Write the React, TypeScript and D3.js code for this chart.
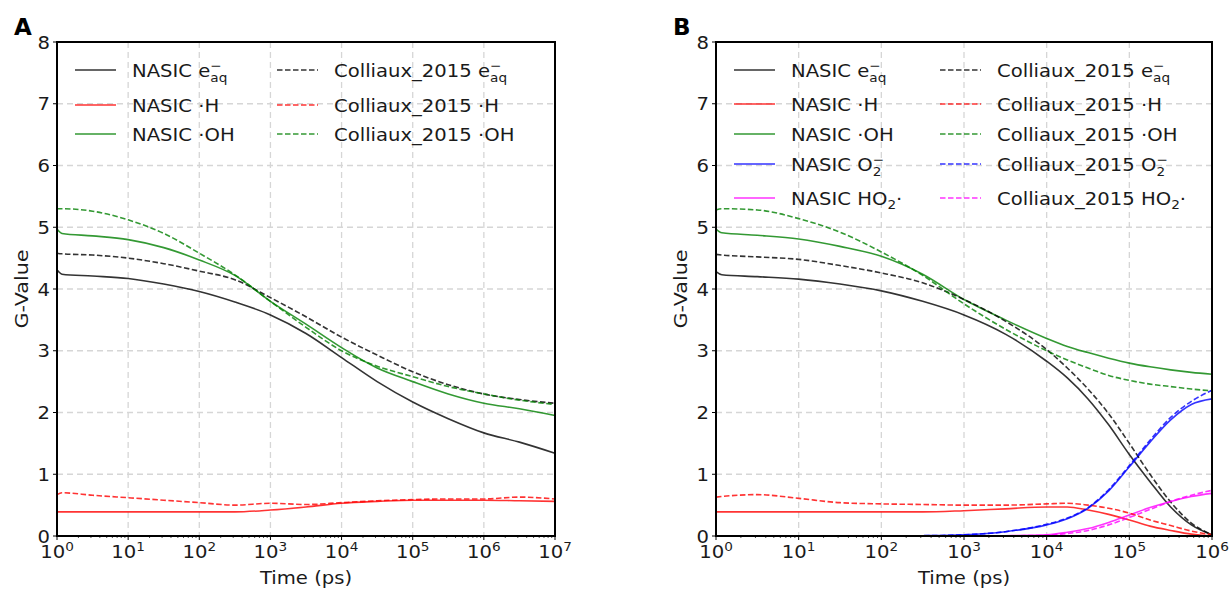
import React, { useRef, useEffect } from "react";
import * as d3 from "d3";

// time points are log10(t / ps)
const expsA = [0, 0.07, 0.5, 1, 1.5, 2, 2.5, 3, 3.5, 4, 4.5, 5, 5.5, 6, 6.5, 7];
const nasicEaqA = [4.31, 4.24, 4.21, 4.17, 4.08, 3.96, 3.79, 3.58, 3.28, 2.89, 2.5, 2.17, 1.9, 1.67, 1.52, 1.34];
const collEaqA = [4.58, 4.57, 4.55, 4.5, 4.41, 4.29, 4.15, 3.86, 3.55, 3.22, 2.93, 2.66, 2.45, 2.3, 2.21, 2.15];
const nasicOhA = [4.97, 4.9, 4.86, 4.8, 4.67, 4.47, 4.22, 3.8, 3.43, 3.05, 2.72, 2.5, 2.3, 2.15, 2.06, 1.95];
const collOhA = [5.3, 5.3, 5.26, 5.12, 4.9, 4.58, 4.23, 3.8, 3.38, 3.0, 2.75, 2.58, 2.42, 2.3, 2.2, 2.13];
const nasicHA = [0.39, 0.39, 0.39, 0.39, 0.39, 0.39, 0.39, 0.42, 0.47, 0.53, 0.56, 0.58, 0.58, 0.58, 0.57, 0.56];
const collHA = [0.67, 0.7, 0.66, 0.62, 0.58, 0.54, 0.5, 0.53, 0.51, 0.54, 0.57, 0.59, 0.6, 0.6, 0.63, 0.6];

const expsB = [0, 0.07, 0.5, 1, 1.5, 2, 2.5, 3, 3.5, 4, 4.25, 4.5, 4.75, 5, 5.25, 5.5, 5.75, 6];
const nasicEaqB = [4.28, 4.23, 4.2, 4.16, 4.08, 3.97, 3.8, 3.58, 3.27, 2.83, 2.56, 2.22, 1.8, 1.32, 0.88, 0.47, 0.18, 0.02];
const collEaqB = [4.56, 4.55, 4.52, 4.48, 4.38, 4.26, 4.1, 3.83, 3.48, 3.02, 2.72, 2.38, 1.98, 1.5, 1.0, 0.55, 0.21, 0.02];
const nasicOhB = [4.97, 4.91, 4.87, 4.81, 4.69, 4.53, 4.24, 3.83, 3.5, 3.2, 3.07, 2.97, 2.88, 2.8, 2.74, 2.69, 2.65, 2.62];
const collOhB = [5.28, 5.3, 5.28, 5.14, 4.92, 4.6, 4.22, 3.76, 3.35, 3.0, 2.85, 2.72, 2.6, 2.52, 2.46, 2.42, 2.38, 2.35];
const nasicHB = [0.39, 0.39, 0.39, 0.39, 0.39, 0.39, 0.39, 0.41, 0.44, 0.47, 0.47, 0.42, 0.35, 0.26, 0.16, 0.09, 0.03, 0.0];
const collHB = [0.63, 0.64, 0.67, 0.61, 0.54, 0.52, 0.51, 0.5, 0.5, 0.52, 0.53, 0.5, 0.45, 0.37, 0.26, 0.17, 0.08, 0.02];
const nasicO2B = [0, 0, 0, 0, 0, 0, 0.005, 0.02, 0.07, 0.18, 0.28, 0.45, 0.73, 1.12, 1.52, 1.88, 2.13, 2.22];
const collO2B = [0, 0, 0, 0, 0, 0, 0.005, 0.02, 0.07, 0.19, 0.29, 0.46, 0.75, 1.14, 1.55, 1.92, 2.18, 2.36];
const nasicHo2B = [0, 0, 0, 0, 0, 0, 0, 0, 0.005, 0.02, 0.06, 0.12, 0.22, 0.34, 0.46, 0.56, 0.64, 0.69];
const collHo2B = [0, 0, 0, 0, 0, 0, 0, 0, 0.003, 0.01, 0.04, 0.09, 0.18, 0.3, 0.43, 0.56, 0.66, 0.74];

const yTicks = [0, 1, 2, 3, 4, 5, 6, 7, 8];

type Part = { t: string; sup?: string; sub?: string };
type Series = { name: Part[]; values: number[]; color: string; dashed: boolean };

const eaq = (p: string): Part[] => [{ t: p + " e", sup: "\u2212", sub: "aq" }];
const hLab = (p: string): Part[] => [{ t: p + " \u00b7H" }];
const ohLab = (p: string): Part[] => [{ t: p + " \u00b7OH" }];
const o2Lab = (p: string): Part[] => [{ t: p + " O", sup: "\u2212", sub: "2" }];
const ho2Lab = (p: string): Part[] => [{ t: p + " HO", sub: "2" }, { t: "\u00b7" }];

const BLACK = "#000000";
const RED = "#ff0000";
const GREEN = "#008000";
const BLUE = "#0000ff";
const MAGENTA = "#ff00ff";
const FONT = "DejaVu Sans";
const FS = 18; // base font size
const SX = 1.09; // text in the reference is a bit wider than tall

const seriesA: Series[] = [
  { name: eaq("NASIC"), values: nasicEaqA, color: BLACK, dashed: false },
  { name: hLab("NASIC"), values: nasicHA, color: RED, dashed: false },
  { name: ohLab("NASIC"), values: nasicOhA, color: GREEN, dashed: false },
  { name: eaq("Colliaux_2015"), values: collEaqA, color: BLACK, dashed: true },
  { name: hLab("Colliaux_2015"), values: collHA, color: RED, dashed: true },
  { name: ohLab("Colliaux_2015"), values: collOhA, color: GREEN, dashed: true },
];

const seriesB: Series[] = [
  { name: eaq("NASIC"), values: nasicEaqB, color: BLACK, dashed: false },
  { name: hLab("NASIC"), values: nasicHB, color: RED, dashed: false },
  { name: ohLab("NASIC"), values: nasicOhB, color: GREEN, dashed: false },
  { name: o2Lab("NASIC"), values: nasicO2B, color: BLUE, dashed: false },
  { name: ho2Lab("NASIC"), values: nasicHo2B, color: MAGENTA, dashed: false },
  { name: eaq("Colliaux_2015"), values: collEaqB, color: BLACK, dashed: true },
  { name: hLab("Colliaux_2015"), values: collHB, color: RED, dashed: true },
  { name: ohLab("Colliaux_2015"), values: collOhB, color: GREEN, dashed: true },
  { name: o2Lab("Colliaux_2015"), values: collO2B, color: BLUE, dashed: true },
  { name: ho2Lab("Colliaux_2015"), values: collHo2B, color: MAGENTA, dashed: true },
];

type PanelCfg = {
  letter: string;
  left: number;
  right: number;
  top: number;
  bottom: number;
  maxExp: number;
  exps: number[];
  series: Series[];
  legendRows: number[];
  legendX: number[];
};

const panels: PanelCfg[] = [
  {
    letter: "A", left: 57, right: 555, top: 42, bottom: 536, maxExp: 7,
    exps: expsA, series: seriesA, legendRows: [70, 105, 134], legendX: [75, 277],
  },
  {
    letter: "B", left: 716, right: 1212, top: 42, bottom: 536, maxExp: 6,
    exps: expsB, series: seriesB, legendRows: [70, 104, 134, 164, 198], legendX: [734, 940],
  },
];

type G = d3.Selection<SVGGElement, unknown, null, undefined>;
type T = d3.Selection<SVGTextElement, unknown, null, undefined>;

function addText(g: G, x: number, y: number, rot = 0, sx = SX): T {
  return g.append("text")
    .attr("transform", `translate(${x},${y}) rotate(${rot}) scale(${sx},1)`)
    .attr("font-family", FONT)
    .attr("font-size", FS)
    .attr("fill", "#1a1a1a");
}

function writeLabel(text: T, parts: Part[]) {
  let off = 0;
  parts.forEach((p) => {
    text.append("tspan").attr("font-size", FS).attr("dy", -off).text(p.t);
    off = 0;
    if (p.sup && p.sub) {
      const s = text.append("tspan").attr("font-size", 12.5).attr("dy", -7).text(p.sup);
      const w = (s.node() as SVGTextContentElement).getComputedTextLength();
      text.append("tspan").attr("font-size", 12.5).attr("dx", -w).attr("dy", 12).text(p.sub);
      off = 5;
    } else if (p.sub) {
      text.append("tspan").attr("font-size", 12.5).attr("dy", 4).text(p.sub);
      off = 4;
    }
  });
}

function drawPanel(svg: d3.Selection<SVGSVGElement, unknown, null, undefined>, cfg: PanelCfg) {
  const g = svg.append("g") as G;
  const x = d3.scaleLog().domain([1, Math.pow(10, cfg.maxExp)]).range([cfg.left, cfg.right]);
  const y = d3.scaleLinear().domain([0, 8]).range([cfg.bottom, cfg.top]);
  const majors = d3.range(0, cfg.maxExp + 1).map((k) => Math.pow(10, k));
  const minors: number[] = [];
  d3.range(0, cfg.maxExp).forEach((k) => {
    for (let m = 2; m <= 9; m++) minors.push(m * Math.pow(10, k));
  });

  // grid
  g.selectAll(".gx").data(majors.slice(1, -1)).join("line")
    .attr("x1", (d) => x(d)).attr("x2", (d) => x(d))
    .attr("y1", cfg.top).attr("y2", cfg.bottom)
    .attr("stroke", "#d6d6d6").attr("stroke-width", 1.3).attr("stroke-dasharray", "6,4");
  g.selectAll(".gy").data(yTicks.slice(1, -1)).join("line")
    .attr("x1", cfg.left).attr("x2", cfg.right)
    .attr("y1", (d) => y(d)).attr("y2", (d) => y(d))
    .attr("stroke", "#d6d6d6").attr("stroke-width", 1.3).attr("stroke-dasharray", "6,4");

  // curves
  const line = d3.line<[number, number]>()
    .x((d) => x(Math.pow(10, d[0])))
    .y((d) => y(d[1]))
    .curve(d3.curveMonotoneX);
  cfg.series.forEach((s) => {
    const pts = cfg.exps.map((e, i) => [e, s.values[i]] as [number, number]);
    g.append("path")
      .attr("d", line(pts))
      .attr("fill", "none")
      .attr("stroke", s.color)
      .attr("stroke-opacity", 0.8)
      .attr("stroke-width", 1.6)
      .attr("stroke-dasharray", s.dashed ? "5.5,2.5" : null);
  });

  // frame
  g.append("rect")
    .attr("x", cfg.left).attr("y", cfg.top)
    .attr("width", cfg.right - cfg.left).attr("height", cfg.bottom - cfg.top)
    .attr("fill", "none").attr("stroke", "#000").attr("stroke-width", 2);

  // y ticks
  g.selectAll(".ty").data(yTicks).join("line")
    .attr("x1", cfg.left - 4).attr("x2", cfg.left)
    .attr("y1", (d) => y(d)).attr("y2", (d) => y(d))
    .attr("stroke", "#000").attr("stroke-width", 1);
  yTicks.forEach((d) => {
    addText(g, cfg.left - 7, y(d) + 6.5)
      .attr("text-anchor", "end")
      .text(String(d));
  });

  // x ticks
  g.selectAll(".tx").data(majors).join("line")
    .attr("x1", (d) => x(d)).attr("x2", (d) => x(d))
    .attr("y1", cfg.bottom).attr("y2", cfg.bottom + 4)
    .attr("stroke", "#000").attr("stroke-width", 1);
  g.selectAll(".tm").data(minors).join("line")
    .attr("x1", (d) => x(d)).attr("x2", (d) => x(d))
    .attr("y1", cfg.bottom).attr("y2", cfg.bottom + 2)
    .attr("stroke", "#000").attr("stroke-width", 0.7);
  majors.forEach((d, k) => {
    const t = addText(g, x(d), cfg.bottom + 22).attr("text-anchor", "middle");
    t.append("tspan").text("10");
    t.append("tspan").attr("font-size", 12.5).attr("dy", -7.5).text(String(k));
  });

  // axis labels
  addText(g, (cfg.left + cfg.right) / 2, 584)
    .attr("text-anchor", "middle")
    .text("Time (ps)");
  addText(g, cfg.left - 29, (cfg.top + cfg.bottom) / 2, -90, 1.15)
    .attr("text-anchor", "middle")
    .text("G-Value");

  // panel letter
  addText(g, cfg.left - 43, 35, 0, 1)
    .attr("font-size", 23).attr("font-weight", "bold").attr("fill", "#000")
    .text(cfg.letter);

  // legend
  const nRows = cfg.legendRows.length;
  cfg.series.forEach((s, i) => {
    const col = Math.floor(i / nRows);
    const row = i % nRows;
    const lx = cfg.legendX[col];
    const ly = cfg.legendRows[row];
    g.append("line")
      .attr("x1", lx).attr("x2", lx + 41)
      .attr("y1", ly).attr("y2", ly)
      .attr("stroke", s.color).attr("stroke-opacity", 0.8).attr("stroke-width", 1.6)
      .attr("stroke-dasharray", s.dashed ? "5.5,2.5" : null);
    writeLabel(addText(g, lx + 57, ly + 6.5), s.name);
  });
}

const App = () => {
  const svgRef = useRef<SVGSVGElement>(null);

  useEffect(() => {
    const svg = d3.select(svgRef.current as SVGSVGElement);
    svg.selectAll("*").remove();
    panels.forEach((p) => drawPanel(svg, p));
  }, []);

  return (
    <svg
      ref={svgRef}
      width={1231}
      height={590}
      style={{ position: "absolute", left: 0, top: 0, background: "#fff" }}
    />
  );
};

export default App;
